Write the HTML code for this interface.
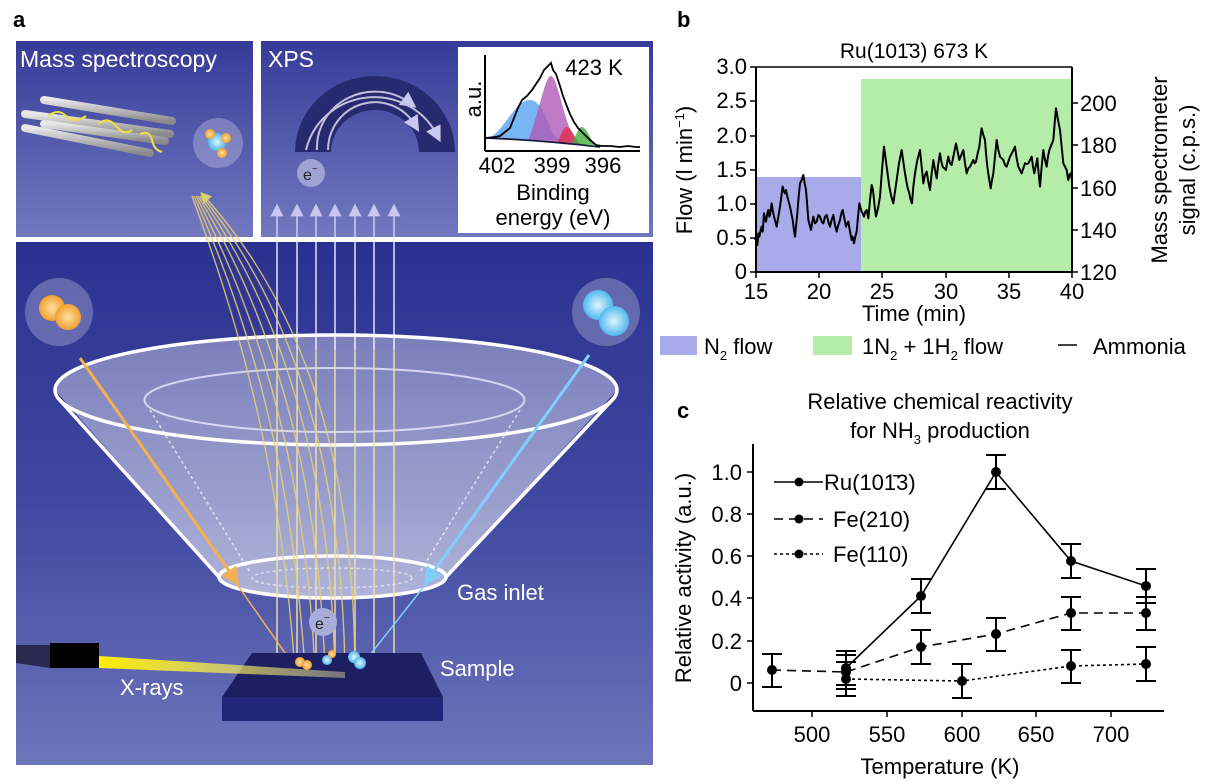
<!DOCTYPE html>
<html><head><meta charset="utf-8"><style>
html,body{margin:0;padding:0;background:#fff}
svg{display:block;font-family:"Liberation Sans",Arial,sans-serif}
</style></head><body>
<svg width="1206" height="784" viewBox="0 0 1206 784" xmlns="http://www.w3.org/2000/svg">
<defs>
<linearGradient id="bgTop" x1="0" y1="0" x2="0" y2="1"><stop offset="0" stop-color="#363b98"/><stop offset="1" stop-color="#7279bf"/></linearGradient>
<linearGradient id="bgMain" x1="0" y1="0" x2="0" y2="1"><stop offset="0" stop-color="#2b3190"/><stop offset="0.5" stop-color="#4048a0"/><stop offset="1" stop-color="#6d75bb"/></linearGradient>
<linearGradient id="funnel" x1="0" y1="0" x2="0" y2="1"><stop offset="0" stop-color="#ffffff" stop-opacity="0.35"/><stop offset="1" stop-color="#ffffff" stop-opacity="0.55"/></linearGradient>
<radialGradient id="orng"><stop offset="0" stop-color="#ffe0a0"/><stop offset="1" stop-color="#f0a030"/></radialGradient>
<radialGradient id="blu"><stop offset="0" stop-color="#e0f6ff"/><stop offset="1" stop-color="#50b8ee"/></radialGradient>
<linearGradient id="rod" x1="0" y1="0" x2="0" y2="1"><stop offset="0" stop-color="#e8e8e8"/><stop offset="1" stop-color="#8a8a8a"/></linearGradient>
<linearGradient id="beam" x1="0" y1="0" x2="1" y2="0"><stop offset="0" stop-color="#ffee00"/><stop offset="1" stop-color="#fff6a0" stop-opacity="0.4"/></linearGradient>
<marker id="ah" markerWidth="8" markerHeight="8" refX="4" refY="4" orient="auto"><path d="M0,0 L8,4 L0,8 z" fill="#c8c8ee"/></marker>
<marker id="ahy" markerWidth="8" markerHeight="8" refX="4" refY="4" orient="auto"><path d="M0,0 L8,4 L0,8 z" fill="#f0e060"/></marker>
<marker id="aho" markerWidth="6" markerHeight="6" refX="3" refY="3" orient="auto"><path d="M0,0 L6,3 L0,6 z" fill="#f5b050"/></marker>
<marker id="ahb" markerWidth="6" markerHeight="6" refX="3" refY="3" orient="auto"><path d="M0,0 L6,3 L0,6 z" fill="#7fd0ff"/></marker>
</defs>

<!-- ===== Panel a ===== -->
<text x="13" y="27" font-size="22" font-weight="bold">a</text>
<rect x="16" y="41" width="237" height="196" fill="url(#bgTop)"/>
<rect x="261" y="41" width="392" height="196" fill="url(#bgTop)"/>
<rect x="16" y="242" width="637" height="523" fill="url(#bgMain)"/>

<text x="20" y="67" font-size="23" fill="#fff">Mass spectroscopy</text>
<g stroke-linecap="round">
<line x1="44" y1="100" x2="172" y2="121" stroke="url(#rod)" stroke-width="8"/>
<line x1="25" y1="114" x2="170" y2="134" stroke="url(#rod)" stroke-width="8"/>
<line x1="44" y1="124" x2="165" y2="141" stroke="url(#rod)" stroke-width="8"/>
<line x1="25" y1="128" x2="150" y2="153" stroke="url(#rod)" stroke-width="8"/>
</g>
<path d="M48,116 q10,-8 18,0 t20,0 M98,124 q10,-8 18,2 t16,4 M140,134 q10,-4 12,6 t10,12" stroke="#f0e040" stroke-width="2" fill="none"/>
<circle cx="218" cy="143" r="25" fill="#ffffff" fill-opacity="0.25"/>
<circle cx="217" cy="142" r="9" fill="url(#blu)"/>
<circle cx="210" cy="134" r="5" fill="url(#orng)"/><circle cx="226" cy="138" r="5" fill="url(#orng)"/><circle cx="222" cy="153" r="5" fill="url(#orng)"/>

<text x="268" y="67" font-size="23" fill="#fff">XPS</text>
<path d="M295,152 A80,76 0 0 1 455,152 L419,152 A44,42 0 0 0 331,152 Z" fill="#262a6e"/>
<path d="M317,150 A58,56 0 0 1 410,103" stroke="#c0c0dd" stroke-width="2" fill="none" marker-end="url(#ah)"/>
<path d="M328,150 A47,48 0 0 1 415,125" stroke="#c0c0dd" stroke-width="2" fill="none" marker-end="url(#ah)"/>
<path d="M306,150 A70,68 0 0 1 437,135" stroke="#c0c0dd" stroke-width="2" fill="none" marker-end="url(#ah)"/>
<circle cx="311" cy="173" r="14" fill="#9ea3d6"/>
<text x="303" y="180" font-size="16" fill="#222">e<tspan font-size="10" dy="-8">−</tspan></text>

<!-- XPS inset -->
<rect x="458" y="47" width="191" height="186" fill="#fff"/>
<path d="M488,139 C505,130 515,100 530,100 C545,100 548,135 560,140 Z" fill="#4a9cf0" fill-opacity="0.75"/>
<path d="M528,141 C540,110 545,76 551,76 C558,76 565,130 578,143 Z" fill="#b05ab8" fill-opacity="0.8"/>
<path d="M557,143 C562,132 564,127 567,127 C571,127 575,138 580,144 Z" fill="#e03050" fill-opacity="0.8"/>
<path d="M572,144 C577,132 579,127 582,127 C586,127 590,138 595,145 Z" fill="#40b040" fill-opacity="0.8"/>
<path d="M486,138 Q540,140 600,147" stroke="#1a1a40" stroke-width="1.8" fill="none"/>
<polyline fill="none" stroke="#000" stroke-width="1.8" points="486,138 495,137 500,136 505,132 510,128 514,118 518,108 522,100 527,96 532,90 536,84 540,78 544,70 548,66 551,63 553,70 556,74 560,86 563,96 566,104 570,114 574,122 578,128 582,132 586,136 590,140 596,145 602,146 610,146 620,147 628,146 636,147 640,147"/>
<line x1="485" y1="55" x2="485" y2="151" stroke="#000" stroke-width="2"/>
<line x1="485" y1="151" x2="640" y2="151" stroke="#000" stroke-width="2"/>
<g font-size="22" text-anchor="middle"><text x="497" y="173">402</text><text x="552" y="173">399</text><text x="603" y="173">396</text>
<text x="553" y="200">Binding</text><text x="553" y="225">energy (eV)</text>
<text x="594" y="75">423 K</text></g>
<text x="0" y="0" font-size="22" text-anchor="middle" transform="translate(481,99) rotate(-90)">a.u.</text>

<!-- vertical electron arrows -->
<g stroke="#c8c8ee" stroke-width="1.6" marker-end="url(#ah)">
<line x1="277" y1="237" x2="277" y2="210"/><line x1="297" y1="237" x2="297" y2="210"/><line x1="316" y1="237" x2="316" y2="210"/><line x1="335" y1="237" x2="335" y2="210"/><line x1="355" y1="237" x2="355" y2="210"/><line x1="374" y1="237" x2="374" y2="210"/><line x1="394" y1="237" x2="394" y2="210"/>
</g>
<g stroke="#d8d8f0" stroke-width="1.6">
<line x1="277" y1="242" x2="277" y2="350"/><line x1="297" y1="242" x2="297" y2="350"/><line x1="316" y1="242" x2="316" y2="350"/><line x1="335" y1="242" x2="335" y2="350"/><line x1="355" y1="242" x2="355" y2="350"/><line x1="374" y1="242" x2="374" y2="350"/><line x1="394" y1="242" x2="394" y2="350"/>
</g>

<!-- funnel -->
<path d="M55,390 L219,577 A113.5,21 0 0 0 446,577 L617,390 A281,55 0 0 0 55,390 Z" fill="url(#funnel)"/>
<ellipse cx="334.5" cy="400" rx="190" ry="32" fill="none" stroke="#e8e8ff" stroke-width="2" opacity="0.8"/>
<path d="M150,410 L250,572 M520,410 L420,572" stroke="#fff" stroke-width="1.5" stroke-dasharray="3,3" opacity="0.7"/>
<ellipse cx="332" cy="578" rx="80" ry="10" fill="none" stroke="#fff" stroke-width="1.5" stroke-dasharray="3,3" opacity="0.6"/>
<ellipse cx="336" cy="390" rx="281" ry="55" fill="none" stroke="#fff" stroke-width="3.5"/>
<path d="M57,397 L219,577 M615,397 L446,577" stroke="#fff" stroke-width="3.5"/>
<ellipse cx="332.5" cy="577" rx="113.5" ry="21" fill="none" stroke="#fff" stroke-width="3.5"/>

<g stroke="#f0e0a0" stroke-width="1.6" opacity="0.9">
<line x1="277" y1="350" x2="277" y2="676"/><line x1="297" y1="350" x2="297" y2="676"/><line x1="316" y1="350" x2="316" y2="676"/><line x1="335" y1="350" x2="335" y2="676"/><line x1="355" y1="350" x2="355" y2="676"/><line x1="374" y1="350" x2="374" y2="676"/><line x1="394" y1="350" x2="394" y2="676"/>
</g>
<g fill="none" stroke="#e8d070" stroke-width="1.4" opacity="0.85">
<path d="M295,672 C280,450 230,300 192,196"/>
<path d="M305,672 C292,450 240,300 194,196"/>
<path d="M315,672 C305,450 250,300 196,196"/>
<path d="M325,672 C318,450 262,300 198,196"/>
<path d="M335,672 C330,450 274,300 200,196"/>
<path d="M345,672 C342,450 286,300 202,196"/>
<path d="M355,672 C354,450 298,300 204,196" marker-end="url(#ahy)"/>
</g>

<!-- gas bubbles -->
<circle cx="59" cy="312" r="34" fill="#fff" fill-opacity="0.25"/>
<circle cx="52" cy="308" r="13" fill="url(#orng)"/><circle cx="68" cy="317" r="13" fill="url(#orng)"/>
<circle cx="606" cy="312" r="34" fill="#fff" fill-opacity="0.25"/>
<circle cx="598" cy="305" r="15" fill="url(#blu)"/><circle cx="614" cy="321" r="15" fill="url(#blu)"/>
<line x1="80" y1="358" x2="234" y2="578" stroke="#f5b050" stroke-width="3" marker-end="url(#aho)"/>
<line x1="234" y1="580" x2="290" y2="660" stroke="#f5b050" stroke-width="1.5" marker-end="url(#aho)"/>
<line x1="589" y1="355" x2="429" y2="578" stroke="#7fd0ff" stroke-width="3" marker-end="url(#ahb)"/>
<line x1="429" y1="580" x2="366" y2="660" stroke="#7fd0ff" stroke-width="1.5" marker-end="url(#ahb)"/>

<!-- sample -->
<path d="M252,653 L421,653 L443,697 L222,697 Z" fill="#1c1f62"/>
<rect x="222" y="697" width="221" height="24" fill="#22267a"/>
<polygon points="99,656 99,668 345,678 345,672" fill="url(#beam)"/>
<polygon points="16,645 50,645 50,668 16,663" fill="#2a2a50"/>
<rect x="50" y="643" width="49" height="25" fill="#000"/>
<circle cx="300" cy="662" r="5" fill="url(#orng)"/><circle cx="307" cy="665" r="5" fill="url(#orng)"/>
<circle cx="327" cy="660" r="5" fill="url(#blu)"/><circle cx="332" cy="654" r="4" fill="url(#orng)"/>
<circle cx="354" cy="657" r="6" fill="url(#blu)"/><circle cx="360" cy="663" r="6" fill="url(#blu)"/>
<circle cx="323" cy="622" r="14" fill="#a8acd8"/>
<text x="315" y="629" font-size="16" fill="#222">e<tspan font-size="10" dy="-8">−</tspan></text>
<g font-size="22" fill="#fff"><text x="457" y="600">Gas inlet</text><text x="440" y="676">Sample</text><text x="120" y="695">X-rays</text></g>

<!-- ===== Panel b ===== -->
<text x="677" y="27" font-size="22" font-weight="bold">b</text>
<text x="914" y="58" font-size="21" text-anchor="middle">Ru(101̄3) 673 K</text>
<rect x="756" y="177" width="105" height="95" fill="#a8aaea"/>
<rect x="861" y="79" width="211" height="193" fill="#b5ecaa"/>
<g transform="translate(700,40) scale(0.33333)">
<polyline fill="none" stroke="#000" stroke-width="6" stroke-linejoin="round" points="165,600 168,590 172,615 175,580 178,590 182,570 185,560 188,575 192,520 195,535 198,545 202,520 205,510 208,530 210,525 213,505 215,490 218,510 222,530 226,545 230,560 235,530 240,500 244,470 248,440 252,455 255,460 258,450 262,470 266,485 270,500 274,520 278,540 282,570 285,590 288,560 292,520 296,470 300,430 305,420 310,405 314,430 318,450 322,500 325,540 329,555 333,570 337,545 340,530 345,550 350,545 355,525 360,530 365,545 370,550 375,530 380,525 385,545 390,560 395,540 400,525 405,555 410,575 415,555 420,540 424,520 428,510 433,535 438,560 442,550 445,545 450,575 455,600 458,590 462,610 466,590 470,575 474,530 478,490 482,505 485,515 488,520 492,530 496,515 500,510 503,525 505,535 510,480 515,435 518,445 520,460 524,500 528,530 534,505 540,470 546,390 552,320 556,350 560,380 564,410 568,440 574,470 580,490 585,455 590,420 597,370 605,330 610,365 615,400 622,440 628,460 632,480 636,490 640,440 645,400 652,360 660,330 665,380 670,430 675,405 680,395 685,425 690,450 695,400 700,360 705,390 710,415 715,370 720,340 724,365 728,380 733,385 738,390 742,365 745,350 750,370 755,375 762,340 768,310 773,335 778,360 784,345 790,330 795,370 800,400 805,385 810,380 815,370 820,360 824,370 828,365 833,340 838,320 842,285 845,265 850,285 855,300 858,340 862,380 867,415 872,445 876,420 880,400 885,350 890,300 895,330 900,350 905,355 910,360 915,375 920,380 925,365 930,350 938,335 945,320 950,355 955,380 960,390 965,400 970,385 975,370 980,372 985,370 990,360 995,350 999,380 1003,400 1008,375 1012,355 1016,400 1020,440 1025,380 1030,330 1035,360 1040,380 1044,350 1048,330 1054,315 1060,300 1064,250 1068,205 1074,240 1080,270 1085,320 1090,370 1095,380 1100,390 1103,410 1105,420 1108,405 1112,400 1115,415 1117,420"/>
</g>
<g stroke="#000" stroke-width="2" fill="none">
<polyline points="756,67 756,272 1072,272 1072,67"/>
<line x1="756" y1="67" x2="1072" y2="67" stroke-width="1.5"/>
</g>
<g stroke="#000" stroke-width="1.5">
<line x1="750" y1="67" x2="756" y2="67"/><line x1="750" y1="101" x2="756" y2="101"/><line x1="750" y1="136" x2="756" y2="136"/><line x1="750" y1="170" x2="756" y2="170"/><line x1="750" y1="204" x2="756" y2="204"/><line x1="750" y1="238" x2="756" y2="238"/><line x1="750" y1="272" x2="756" y2="272"/>
<line x1="756" y1="272" x2="756" y2="278"/><line x1="819" y1="272" x2="819" y2="278"/><line x1="882" y1="272" x2="882" y2="278"/><line x1="946" y1="272" x2="946" y2="278"/><line x1="1009" y1="272" x2="1009" y2="278"/><line x1="1072" y1="272" x2="1072" y2="278"/>
<line x1="1072" y1="103" x2="1078" y2="103"/><line x1="1072" y1="145" x2="1078" y2="145"/><line x1="1072" y1="188" x2="1078" y2="188"/><line x1="1072" y1="230" x2="1078" y2="230"/><line x1="1072" y1="272" x2="1078" y2="272"/>
</g>
<g font-size="22" text-anchor="end">
<text x="747" y="74">3.0</text><text x="747" y="108">2.5</text><text x="747" y="143">2.0</text><text x="747" y="177">1.5</text><text x="747" y="211">1.0</text><text x="747" y="245">0.5</text><text x="747" y="279">0</text>
</g>
<g font-size="22" text-anchor="middle">
<text x="756" y="299">15</text><text x="819" y="299">20</text><text x="882" y="299">25</text><text x="946" y="299">30</text><text x="1009" y="299">35</text><text x="1072" y="299">40</text>
<text x="914" y="321">Time (min)</text>
</g>
<g font-size="22">
<text x="1080" y="111">200</text><text x="1080" y="153">180</text><text x="1080" y="196">160</text><text x="1080" y="238">140</text><text x="1080" y="280">120</text>
</g>
<text font-size="22" text-anchor="middle" transform="translate(692,170) rotate(-90)">Flow (l min<tspan font-size="13" dy="-8">−1</tspan><tspan dy="8">)</tspan></text>
<text font-size="22" text-anchor="middle" transform="translate(1167,170) rotate(-90)">Mass spectrometer</text>
<text font-size="22" text-anchor="middle" transform="translate(1195,170) rotate(-90)">signal (c.p.s.)</text>
<!-- legend b -->
<rect x="660" y="336" width="37" height="19" fill="#a8aaea"/>
<text x="704" y="354" font-size="22">N<tspan font-size="13" dy="6">2</tspan><tspan dy="-6"> flow</tspan></text>
<rect x="813" y="336" width="39" height="19" fill="#b5ecaa"/>
<text x="862" y="354" font-size="22">1N<tspan font-size="13" dy="6">2</tspan><tspan dy="-6"> + 1H</tspan><tspan font-size="13" dy="6">2</tspan><tspan dy="-6"> flow</tspan></text>
<line x1="1058" y1="345" x2="1077" y2="345" stroke="#000" stroke-width="1.6"/>
<text x="1093" y="354" font-size="22">Ammonia</text>

<!-- ===== Panel c ===== -->
<text x="677" y="418" font-size="22" font-weight="bold">c</text>
<text x="940" y="409" font-size="22" text-anchor="middle">Relative chemical reactivity</text>
<text x="940" y="438" font-size="22" text-anchor="middle">for NH<tspan font-size="13" dy="6">3</tspan><tspan dy="-6"> production</tspan></text>
<g stroke="#000" stroke-width="2" fill="none">
<line x1="753" y1="444" x2="753" y2="711"/><line x1="753" y1="711" x2="1164" y2="711"/>
</g>
<g stroke="#000" stroke-width="1.5">
<line x1="747" y1="472" x2="753" y2="472"/><line x1="747" y1="514" x2="753" y2="514"/><line x1="747" y1="556" x2="753" y2="556"/><line x1="747" y1="598" x2="753" y2="598"/><line x1="747" y1="641" x2="753" y2="641"/><line x1="747" y1="683" x2="753" y2="683"/>
<line x1="812" y1="711" x2="812" y2="717"/><line x1="887" y1="711" x2="887" y2="717"/><line x1="962" y1="711" x2="962" y2="717"/><line x1="1036" y1="711" x2="1036" y2="717"/><line x1="1111" y1="711" x2="1111" y2="717"/>
</g>
<g font-size="22" text-anchor="end">
<text x="742" y="480">1.0</text><text x="742" y="522">0.8</text><text x="742" y="564">0.6</text><text x="742" y="606">0.4</text><text x="742" y="649">0.2</text><text x="742" y="691">0</text>
</g>
<g font-size="22" text-anchor="middle">
<text x="812" y="742">500</text><text x="887" y="742">550</text><text x="962" y="742">600</text><text x="1036" y="742">650</text><text x="1111" y="742">700</text>
<text x="940" y="774">Temperature (K)</text>
</g>
<text font-size="22" text-anchor="middle" transform="translate(691,578) rotate(-90)">Relative activity (a.u.)</text>

<polyline fill="none" stroke="#000" stroke-width="1.6" points="846,668 921,596 996,472 1071,561 1146,586"/>
<polyline fill="none" stroke="#000" stroke-width="1.6" stroke-dasharray="9,6" points="772,670 846,672 921,647 996,634 1071,613 1146,613"/>
<polyline fill="none" stroke="#000" stroke-width="1.6" stroke-dasharray="3,3" points="846,679 962,681 1071,666 1146,664"/>
<g stroke="#000" stroke-width="2" fill="none">
<path d="M846,651V685M836,651H856M836,685H856"/>
<path d="M921,579V613M911,579H931M911,613H931"/>
<path d="M996,455V489M986,455H1006M986,489H1006"/>
<path d="M1071,544V578M1061,544H1081M1061,578H1081"/>
<path d="M1146,569V603M1136,569H1156M1136,603H1156"/>
<path d="M772,654V687M762,654H782M762,687H782"/>
<path d="M846,655V689M836,655H856M836,689H856"/>
<path d="M921,630V664M911,630H931M911,664H931"/>
<path d="M996,618V651M986,618H1006M986,651H1006"/>
<path d="M1071,597V630M1061,597H1081M1061,630H1081"/>
<path d="M1146,597V630M1136,597H1156M1136,630H1156"/>
<path d="M846,662V696M836,662H856M836,696H856"/>
<path d="M962,664V698M952,664H972M952,698H972"/>
<path d="M1071,650V683M1061,650H1081M1061,683H1081"/>
<path d="M1146,647V681M1136,647H1156M1136,681H1156"/>
</g>
<g fill="#000">
<circle cx="846" cy="668" r="5"/><circle cx="921" cy="596" r="5"/><circle cx="996" cy="472" r="5"/><circle cx="1071" cy="561" r="5"/><circle cx="1146" cy="586" r="5"/>
<circle cx="772" cy="670" r="5"/><circle cx="846" cy="672" r="5"/><circle cx="921" cy="647" r="5"/><circle cx="996" cy="634" r="5"/><circle cx="1071" cy="613" r="5"/><circle cx="1146" cy="613" r="5"/>
<circle cx="846" cy="679" r="5"/><circle cx="962" cy="681" r="5"/><circle cx="1071" cy="666" r="5"/><circle cx="1146" cy="664" r="5"/>
</g>
<line x1="774" y1="482" x2="823" y2="482" stroke="#000" stroke-width="1.6"/><circle cx="799" cy="482" r="4.5"/>
<line x1="774" y1="519" x2="823" y2="519" stroke="#000" stroke-width="1.6" stroke-dasharray="9,6"/><circle cx="799" cy="519" r="4.5"/>
<line x1="774" y1="554" x2="823" y2="554" stroke="#000" stroke-width="1.6" stroke-dasharray="3,3"/><circle cx="799" cy="554" r="4.5"/>
<g font-size="22"><text x="824" y="490">Ru(101̄3)</text><text x="833" y="527">Fe(210)</text><text x="833" y="562">Fe(110)</text></g>
</svg>
</body></html>
